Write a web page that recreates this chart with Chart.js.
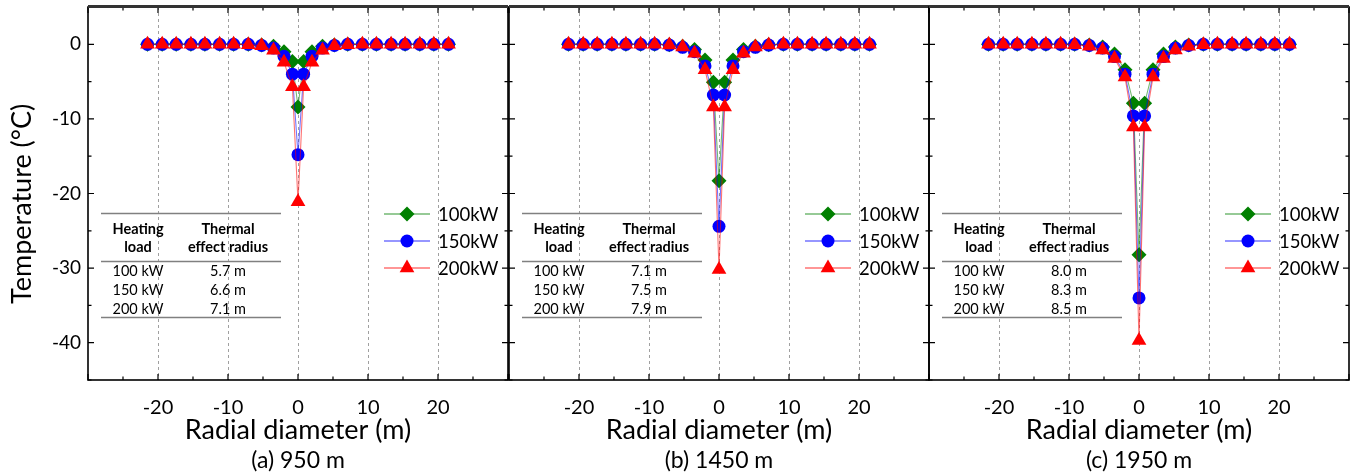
<!DOCTYPE html>
<html>
<head>
<meta charset="utf-8">
<script src="https://cdn.jsdelivr.net/npm/chart.js@4.4.0/dist/chart.umd.min.js"></script>
<style>
  html, body { margin: 0; padding: 0; background: #fff; }
  #wrap { position: relative; width: 1354px; height: 474px; overflow: hidden; }
  canvas { position: absolute; top: 0; }
</style>
</head>
<body>
<div id="wrap">
  <canvas id="panelA" width="520" height="474" style="left:0px"></canvas>
  <canvas id="panelB" width="442" height="474" style="left:499px"></canvas>
  <canvas id="panelC" width="434" height="474" style="left:919px"></canvas>
</div>
<script>
// radial positions of the probe points (m)
const radius = [-21.5, -19.4, -17.4, -15.3, -13.3, -11.2, -9.2, -7.1, -5.2, -3.5, -2.0, -0.8, 0,
                0.8, 2.0, 3.5, 5.2, 7.1, 9.2, 11.2, 13.3, 15.3, 17.4, 19.4, 21.5];

// (a) 950 m
const a100 = [0, 0, 0, 0, 0, 0, 0, 0, -0.1, -0.25, -1.0, -2.3, -8.4, -2.3, -1.0, -0.25, -0.1, 0, 0, 0, 0, 0, 0, 0, 0];
const a150 = [0, 0, 0, 0, 0, 0, 0, 0, -0.15, -0.5, -1.6, -4.0, -14.8, -4.0, -1.6, -0.5, -0.15, 0, 0, 0, 0, 0, 0, 0, 0];
const a200 = [0, 0, 0, 0, 0, 0, 0, -0.05, -0.2, -0.8, -2.4, -5.7, -21.1, -5.7, -2.4, -0.8, -0.2, -0.05, 0, 0, 0, 0, 0, 0, 0];
// (b) 1450 m
const b100 = [0, 0, 0, 0, 0, 0, 0, -0.05, -0.25, -0.7, -2.1, -5.1, -18.3, -5.1, -2.1, -0.7, -0.25, -0.05, 0, 0, 0, 0, 0, 0, 0];
const b150 = [0, 0, 0, 0, 0, 0, 0, -0.1, -0.4, -1.0, -2.9, -6.8, -24.4, -6.8, -2.9, -1.0, -0.4, -0.1, 0, 0, 0, 0, 0, 0, 0];
const b200 = [0, 0, 0, 0, 0, 0, 0, -0.1, -0.35, -1.2, -3.4, -8.4, -30.2, -8.4, -3.4, -1.2, -0.35, -0.1, 0, 0, 0, 0, 0, 0, 0];
// (c) 1950 m
const c100 = [0, 0, 0, 0, 0, 0, 0, -0.1, -0.35, -1.3, -3.4, -7.9, -28.2, -7.9, -3.4, -1.3, -0.35, -0.1, 0, 0, 0, 0, 0, 0, 0];
const c150 = [0, 0, 0, 0, 0, 0, 0, -0.15, -0.5, -1.65, -4.0, -9.6, -34.0, -9.6, -4.0, -1.65, -0.5, -0.15, 0, 0, 0, 0, 0, 0, 0];
const c200 = [0, 0, 0, 0, 0, 0, -0.05, -0.25, -0.75, -1.9, -4.4, -11.1, -39.7, -11.1, -4.4, -1.9, -0.75, -0.25, -0.05, 0, 0, 0, 0, 0, 0];

const seriesNames = ['100kW', '150kW', '200kW'];
const tableLoads = ['100 kW', '150 kW', '200 kW'];
const radiusA = ['5.7 m', '6.6 m', '7.1 m'];
const radiusB = ['7.1 m', '7.5 m', '7.9 m'];
const radiusC = ['8.0 m', '8.3 m', '8.5 m'];

const xMin = -30, xMax = 30, yMin = -45, yMax = 5;
const FONT = 'Lato, "Open Sans", sans-serif';

const pts = ys => radius.map((r, i) => ({x: r, y: ys[i]}));

function makeSets(g, b, r) {
  return [
    {label: seriesNames[0], data: pts(g), borderColor: 'rgba(0,128,0,0.55)', backgroundColor: '#008000',
     pointBackgroundColor: '#008000', pointStyle: 'rectRot', pointRadius: 7.5, order: 2},
    {label: seriesNames[1], data: pts(b), borderColor: 'rgba(0,0,255,0.55)', backgroundColor: '#0000ff',
     pointBackgroundColor: '#0000ff', pointStyle: 'circle', pointRadius: 6.5, order: 1},
    {label: seriesNames[2], data: pts(r), borderColor: 'rgba(255,0,0,0.55)', backgroundColor: '#ff0000',
     pointBackgroundColor: '#ff0000', pointStyle: 'triangle', pointRadius: 8.5, order: 0}
  ].map(d => Object.assign(d, {borderWidth: 1.1, pointBorderWidth: 0, tension: 0, pointHoverRadius: 6}));
}

// no automatic label padding: the plot box is fixed
function noPad(s) {
  s.paddingLeft = 0; s.paddingRight = 0; s.paddingTop = 0; s.paddingBottom = 0;
}

// frame + inward ticks on all four sides
const frameTicks = {
  id: 'frameTicks',
  afterDraw(chart) {
    const {ctx, chartArea: {left, right, top, bottom}, scales: {x, y}} = chart;
    ctx.save();
    ctx.strokeStyle = '#000';
    ctx.lineWidth = 1.2;
    ctx.beginPath();
    for (let v = xMin; v <= xMax; v += 5) {
      const px = x.getPixelForValue(v);
      const len = v % 10 === 0 ? 6 : 3.5;
      ctx.moveTo(px, bottom); ctx.lineTo(px, bottom - len);
      ctx.moveTo(px, top); ctx.lineTo(px, top + len);
    }
    for (let v = yMin; v <= yMax; v += 5) {
      const py = y.getPixelForValue(v);
      const len = v % 10 === 0 ? 6 : 3.5;
      ctx.moveTo(left, py); ctx.lineTo(left + len, py);
      ctx.moveTo(right, py); ctx.lineTo(right - len, py);
    }
    ctx.stroke();
    ctx.lineWidth = 1.6;
    ctx.strokeRect(left, top, right - left, bottom - top);
    ctx.lineWidth = 3;
    ctx.strokeStyle = '#333';
    ctx.beginPath(); ctx.moveTo(left, top - 0.5); ctx.lineTo(right, top - 0.5); ctx.stroke();
    ctx.restore();
  }
};

// legend inside the plot, right side
const sideLegend = {
  id: 'sideLegend',
  afterDraw(chart) {
    const {ctx, chartArea: {left}} = chart;
    const rowsY = [214, 241, 268];
    const sets = chart.data.datasets;
    ctx.save();
    sets.forEach((ds, i) => {
      const yy = rowsY[i];
      ctx.strokeStyle = ds.borderColor;
      ctx.lineWidth = 1.6;
      ctx.beginPath(); ctx.moveTo(left + 296, yy); ctx.lineTo(left + 342, yy); ctx.stroke();
      ctx.fillStyle = ds.pointBackgroundColor;
      Chart.helpers.drawPoint(ctx, {pointStyle: ds.pointStyle, radius: ds.pointRadius, borderWidth: 0, rotation: 0}, left + 319, yy);
      ctx.fillStyle = '#000';
      ctx.font = '18.5px ' + FONT;
      ctx.textBaseline = 'middle';
      ctx.textAlign = 'left';
      ctx.fillText(ds.label, left + 350, yy + 1);
    });
    ctx.restore();
  }
};

// small three-line table
const radiusTable = {
  id: 'radiusTable',
  afterDraw(chart, args, opts) {
    const {ctx, chartArea: {left}} = chart;
    const x0 = left + 13, x1 = left + 193, c1 = left + 50, c2 = left + 140;
    ctx.save();
    ctx.strokeStyle = '#808080';
    ctx.lineWidth = 1.5;
    [213.5, 261.5, 317.5].forEach(yy => {
      ctx.beginPath(); ctx.moveTo(x0, yy); ctx.lineTo(x1, yy); ctx.stroke();
    });
    ctx.fillStyle = '#000';
    ctx.textAlign = 'center';
    ctx.textBaseline = 'middle';
    ctx.font = 'bold 14.5px ' + FONT;
    ctx.fillText('Heating', c1, 229);
    ctx.fillText('load', c1, 247.5);
    ctx.fillText('Thermal', c2, 229);
    ctx.fillText('effect radius', c2, 247.5);
    ctx.font = '14.5px ' + FONT;
    [271, 290, 309].forEach((yy, i) => {
      ctx.fillText(tableLoads[i], c1, yy);
      ctx.fillText(opts.radii[i], c2, yy);
    });
    ctx.restore();
  }
};

// panel caption under the axis title
const caption = {
  id: 'caption',
  afterDraw(chart, args, opts) {
    const {ctx, chartArea: {left, right}} = chart;
    ctx.save();
    ctx.fillStyle = '#000';
    ctx.font = '23px ' + FONT;
    ctx.textAlign = 'center';
    ctx.textBaseline = 'middle';
    ctx.fillText(opts.text, (left + right) / 2, 461);
    ctx.restore();
  }
};

function makePanel(id, sets, captionText, radii, showY, pad) {
  const yScale = {
    type: 'linear', min: yMin, max: yMax, display: showY,
    afterFit: s => { if (showY) s.width = 88; noPad(s); },
    grid: {display: false, drawTicks: false},
    border: {display: false},
    ticks: {stepSize: 5, padding: 7, color: '#000', font: {family: FONT, size: 19},
            callback: v => (v % 10 === 0 && v < 5 && v > -45) ? String(v) : ''},
    title: {display: showY, text: 'Temperature (°C)\u00a0\u00a0\u00a0', color: '#000', font: {family: FONT, size: 27},
            padding: {top: 6, bottom: 0}}
  };
  return new Chart(document.getElementById(id), {
    type: 'line',
    data: {datasets: sets},
    options: {
      responsive: false, animation: false, devicePixelRatio: 1,
      layout: {padding: pad, autoPadding: false},
      events: [],
      scales: {
        x: {
          type: 'linear', min: xMin, max: xMax,
          afterFit: s => { s.height = 94; noPad(s); },
          grid: {
            drawTicks: false,
            lineWidth: 1,
            color: c => (c.tick && c.tick.value % 10 === 0 && Math.abs(c.tick.value) < 30) ? '#a0a0a0' : 'rgba(0,0,0,0)'
          },
          border: {display: false, dash: [3, 3]},
          ticks: {stepSize: 5, padding: 16, autoSkip: false, maxRotation: 0, color: '#000',
                  font: {family: FONT, size: 20},
                  callback: v => (v % 10 === 0 && Math.abs(v) < 30) ? String(v) : ''},
          title: {display: true, text: 'Radial diameter (m)', color: '#000',
                  font: {family: FONT, size: 27}, padding: {top: 0, bottom: 28}}
        },
        y: yScale
      },
      plugins: {
        legend: {display: false},
        tooltip: {enabled: false},
        radiusTable: {radii: radii},
        caption: {text: captionText}
      }
    },
    plugins: [frameTicks, sideLegend, radiusTable, caption]
  });
}

makePanel('panelA', makeSets(a100, a150, a200), '(a) 950 m', radiusA, true, {left: 0, right: 12, top: 7, bottom: 0});
makePanel('panelB', makeSets(b100, b150, b200), '(b) 1450 m', radiusB, false, {left: 10, right: 12, top: 7, bottom: 0});
makePanel('panelC', makeSets(c100, c150, c200), '(c) 1950 m', radiusC, false, {left: 10, right: 4, top: 7, bottom: 0});
</script>
</body>
</html>
